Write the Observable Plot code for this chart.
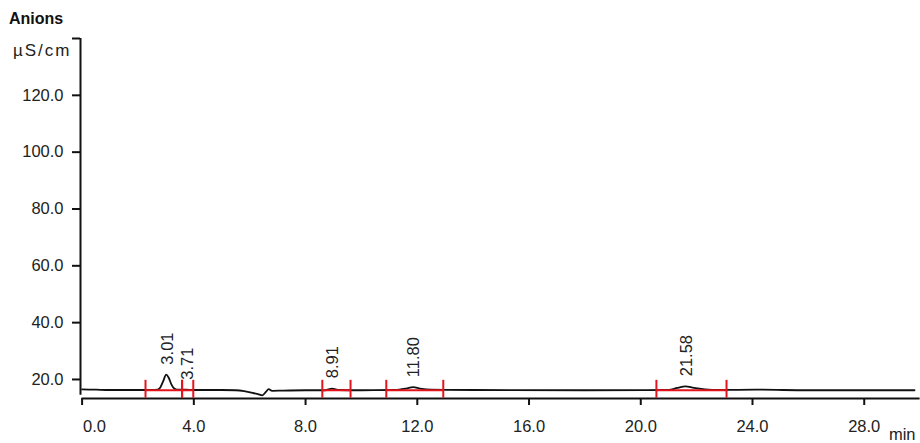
<!DOCTYPE html>
<html><head><meta charset="utf-8">
<script src="https://cdn.jsdelivr.net/npm/d3@7"></script>
<script src="https://cdn.jsdelivr.net/npm/@observablehq/plot@0.6"></script>
<style>
body{margin:0;background:#fff;font-family:"Liberation Sans",Arial,sans-serif;}
#wrap{position:relative;width:920px;height:443px;}
#title{position:absolute;left:9px;top:11px;line-height:16px;font-weight:bold;font-size:16px;color:#111;}
#wrap svg{position:absolute;left:0;top:0;}
</style></head><body>
<div id="wrap"><div id="title">Anions</div></div>
<script>
// chromatogram trace (min, µS/cm)
const traceTime  = [0.0, 0.5, 1.0, 1.5, 2.0, 2.5, 2.7, 2.8, 2.9, 3.01, 3.1, 3.2, 3.3, 3.4, 3.71, 4.0, 5.0, 5.5, 5.8, 6.1, 6.3, 6.45, 6.58, 6.68, 6.8, 7.2, 8.0, 8.7, 8.95, 9.2, 10.0, 11.2, 11.6, 11.85, 12.1, 12.5, 14.0, 18.0, 21.0, 21.3, 21.6, 21.9, 22.3, 22.8, 24.2, 26.0, 29.8];
const traceValue = [16.5, 16.4, 16.3, 16.3, 16.3, 16.3, 16.4, 17.2, 19.3, 21.7, 20.6, 18.2, 16.8, 16.4, 16.4, 16.3, 16.3, 16.2, 15.9, 15.3, 14.8, 14.4, 15.6, 16.6, 16.0, 16.1, 16.2, 16.2, 16.8, 16.3, 16.2, 16.3, 16.8, 17.3, 16.8, 16.4, 16.3, 16.2, 16.3, 17.0, 17.6, 17.0, 16.5, 16.3, 16.4, 16.2, 16.2];

// peaks
const peakRT     = [3.01, 3.71, 8.91, 11.80, 21.58];
const peakLabels = ["3.01", "3.71", "8.91", "11.80", "21.58"];
const peakApex   = [21.7, 16.4, 16.9, 17.3, 17.6];

// integration baselines
const segStart = [2.27, 3.58, 8.60, 10.89, 20.56];
const segEnd   = [3.58, 3.98, 9.61, 12.93, 23.07];
const segBase  = [16.2, 16.2, 16.2, 16.2, 16.2];

// axes
const xTicks = [0, 4, 8, 12, 16, 20, 24, 28];
const yTicks = [20, 40, 60, 80, 100, 120, 140];
const xDomain = [0, 30];
const yDomain = [13.3, 140];

const trace = traceTime.map((t, i) => ({t, v: traceValue[i]}));
const peaks = peakRT.map((rt, i) => ({rt, label: peakLabels[i], apex: peakApex[i]}));
const segs = segStart.map((s, i) => ({s, e: segEnd[i], b: segBase[i]}));
const bounds = segs.flatMap(d => [{t: d.s, b: d.b}, {t: d.e, b: d.b}]);

const RED = "#e3141c";
const FS = 16.5;

const plot = Plot.plot({
  width: 920,
  height: 443,
  marginLeft: 81.6,
  marginRight: 0.4,
  marginTop: 38,
  marginBottom: 45,
  style: {fontFamily: '"Liberation Sans", Arial, sans-serif', color: "#222", background: "transparent"},
  x: {domain: xDomain},
  y: {domain: yDomain},
  marks: [
    Plot.axisY({ticks: yTicks, tickSize: 8, tickPadding: 9, dx: -1.6, fontSize: FS, strokeWidth: 2, stroke: "#111",
      tickFormat: d => d === 140 ? "" : d.toFixed(1), label: null}),
    Plot.axisX({ticks: xTicks, tickSize: 7, tickPadding: 14.6, fontSize: FS, strokeWidth: 2, stroke: "#111",
      tickFormat: d => d === 0 ? "" : d.toFixed(1), label: null}),
    Plot.text(["0.0"], {x: 0, frameAnchor: "bottom", textAnchor: "start", lineAnchor: "bottom", dy: 33, dx: 1, fontSize: FS, fill: "#222"}),
    Plot.ruleX([0], {y1: 14.4, y2: 140, dx: -1.6, stroke: "#111", strokeWidth: 2}),
    Plot.ruleY([13.3], {stroke: "#111", strokeWidth: 2}),
    Plot.text(["µS/cm"], {frameAnchor: "top-left", textAnchor: "end", lineAnchor: "bottom", dx: -10.6, dy: 17, fontSize: 17, fill: "#222"}),
    Plot.text(["min"], {frameAnchor: "bottom-right", textAnchor: "end", lineAnchor: "bottom", dx: -4.6, dy: 41, fontSize: FS, fill: "#222"}),
    Plot.line(trace, {x: "t", y: "v", stroke: "#111", strokeWidth: 1.8, curve: "monotone-x"}),
    Plot.link(segs, {x1: "s", x2: "e", y1: "b", y2: "b", stroke: RED, strokeWidth: 2}),
    Plot.ruleX(bounds, {x: "t", y1: d => d.b - 2.8, y2: d => d.b + 3.5, stroke: RED, strokeWidth: 2}),
    Plot.text(peaks, {x: "rt", y: "apex", text: "label", rotate: -90, textAnchor: "start", dx: 2, dy: -10, fontSize: FS, fill: "#222"})
  ]
});
d3.select(plot).selectAll("text").filter(function() { return this.textContent === "µS/cm"; }).attr("letter-spacing", "2px");
document.getElementById("wrap").appendChild(plot);
</script>
</body></html>
